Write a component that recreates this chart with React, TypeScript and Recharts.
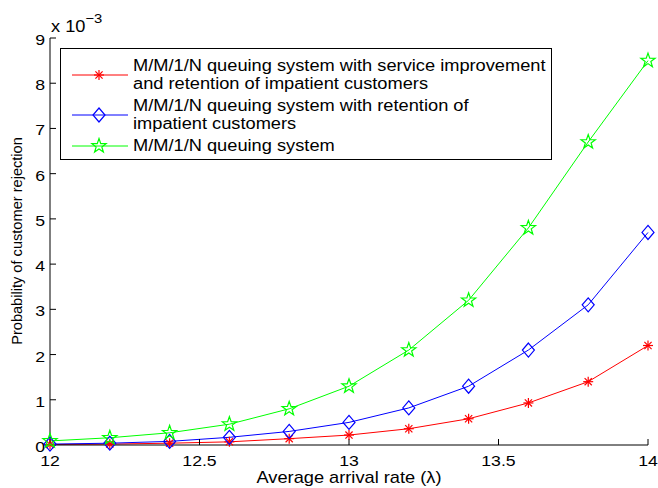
import React from "react";
import { LineChart, Line, XAxis, YAxis, Label } from "recharts";

// arrival rate λ
const RATES = [12, 12.2, 12.4, 12.6, 12.8, 13, 13.2, 13.4, 13.6, 13.8, 14];
// rejection probability, in units of 1e-3
const IMPROVED = [0.01, 0.02, 0.04, 0.07, 0.14, 0.22, 0.36, 0.58, 0.93, 1.4, 2.2];
const RETENTION = [0.02, 0.04, 0.08, 0.17, 0.3, 0.5, 0.82, 1.3, 2.1, 3.1, 4.7];
const BASIC = [0.09, 0.16, 0.27, 0.46, 0.8, 1.3, 2.1, 3.2, 4.8, 6.7, 8.5];

const X_TICKS = [12, 12.5, 13, 13.5, 14];
const Y_TICKS = [0, 1, 2, 3, 4, 5, 6, 7, 8, 9];

const LEGEND = [
  { key: "improved", color: "#ff0000", marker: "star6", lines: ["M/M/1/N queuing system with service improvement", "and retention of impatient customers"] },
  { key: "retention", color: "#0000ff", marker: "diamond", lines: ["M/M/1/N queuing system with retention of", "impatient customers"] },
  { key: "basic", color: "#00ff00", marker: "pentagram", lines: ["M/M/1/N queuing system"] },
];

const data = RATES.map((x, i) => ({ x, improved: IMPROVED[i], retention: RETENTION[i], basic: BASIC[i] }));

const FONT = '"Liberation Sans", Arial, Helvetica, sans-serif';
const SX = 1.14; // the original figure is stretched a bit horizontally

function Marker({ kind, cx, cy, color }: { kind: string; cx: number; cy: number; color: string }) {
  if (kind === "star6") {
    const r = 5;
    const d = r * 0.72;
    return (
      <g stroke={color} strokeWidth={1.2}>
        <line x1={cx - r} y1={cy} x2={cx + r} y2={cy} />
        <line x1={cx} y1={cy - r} x2={cx} y2={cy + r} />
        <line x1={cx - d} y1={cy - d} x2={cx + d} y2={cy + d} />
        <line x1={cx - d} y1={cy + d} x2={cx + d} y2={cy - d} />
      </g>
    );
  }
  if (kind === "diamond") {
    return (
      <path
        d={`M${cx},${cy - 7}L${cx + 6},${cy}L${cx},${cy + 7}L${cx - 6},${cy}Z`}
        fill="none"
        stroke={color}
        strokeWidth={1.2}
      />
    );
  }
  const pts: string[] = [];
  for (let k = 0; k < 10; k++) {
    const r = k % 2 === 0 ? 7.5 : 3;
    const a = -Math.PI / 2 + (k * Math.PI) / 5;
    pts.push(`${cx + r * Math.cos(a)},${cy + r * Math.sin(a)}`);
  }
  return <polygon points={pts.join(" ")} fill="none" stroke={color} strokeWidth={1.2} />;
}

const dotFor = (kind: string, color: string) => (p: any) =>
  <Marker key={`${kind}-${p.index}`} kind={kind} cx={p.cx} cy={p.cy} color={color} />;

function XTick({ x, y, payload }: any) {
  return (
    <text
      x={x}
      y={y}
      dy="0.71em"
      textAnchor="middle"
      fontSize={15.5}
      fontFamily={FONT}
      fill="#000"
      transform={`translate(${x} 0) scale(${SX} 1) translate(${-x} 0)`}
    >
      {payload.value}
    </text>
  );
}

function YTick({ x, y, payload }: any) {
  return (
    <text
      x={x}
      y={y + 1.5}
      dy="0.355em"
      textAnchor="end"
      fontSize={15.5}
      fontFamily={FONT}
      fill="#000"
      transform={`translate(${x} 0) scale(${SX} 1) translate(${-x} 0)`}
    >
      {payload.value}
    </text>
  );
}

export default function App() {
  return (
    <div style={{ position: "absolute", left: 0, top: 0, width: 658, height: 488, background: "#fff", fontFamily: FONT }}>
      <LineChart width={658} height={488} data={data} margin={{ top: 38, right: 10, bottom: 0, left: 0 }}>
        <XAxis
          xAxisId="b"
          dataKey="x"
          type="number"
          domain={[12, 14]}
          ticks={X_TICKS}
          height={43}
          tickSize={-6}
          tickMargin={16}
          stroke="#000"
          tick={<XTick />}
        >
          <Label
            content={() => (
              <text
                x={349}
                y={483}
                textAnchor="middle"
                fontSize={16}
                fontFamily={FONT}
                fill="#000"
                transform={`translate(349 0) scale(${SX} 1) translate(-349 0)`}
              >
                Average arrival rate (λ)
              </text>
            )}
          />
        </XAxis>
        <XAxis
          xAxisId="t"
          orientation="top"
          dataKey="x"
          type="number"
          domain={[12, 14]}
          ticks={X_TICKS}
          height={0}
          tickSize={-6}
          stroke="#000"
          tickFormatter={() => ""}
        />
        <YAxis
          yAxisId="l"
          type="number"
          domain={[0, 9]}
          ticks={Y_TICKS}
          width={50}
          tickSize={-6}
          tickMargin={11}
          stroke="#000"
          tick={<YTick />}
        >
          <Label
            content={() => (
              <text
                x={22}
                y={241}
                transform="rotate(-90 22 241)"
                textAnchor="middle"
                fontSize={14.6}
                fontFamily={FONT}
                fill="#000"
              >
                Probability of customer rejection
              </text>
            )}
          />
        </YAxis>
        <YAxis
          yAxisId="r"
          orientation="right"
          type="number"
          domain={[0, 9]}
          ticks={Y_TICKS}
          width={0}
          tickSize={-6}
          stroke="#000"
          tickFormatter={() => ""}
        />
        <Line xAxisId="b" yAxisId="l" type="linear" dataKey="improved" stroke="#ff0000" strokeWidth={1} dot={dotFor("star6", "#ff0000")} isAnimationActive={false} />
        <Line xAxisId="b" yAxisId="l" type="linear" dataKey="retention" stroke="#0000ff" strokeWidth={1} dot={dotFor("diamond", "#0000ff")} isAnimationActive={false} />
        <Line xAxisId="b" yAxisId="l" type="linear" dataKey="basic" stroke="#00ff00" strokeWidth={1} dot={dotFor("pentagram", "#00ff00")} isAnimationActive={false} />
      </LineChart>

      <svg width={120} height={40} style={{ position: "absolute", left: 0, top: 0 }}>
        <text
          x={51}
          y={32}
          fontSize={16}
          fontFamily={FONT}
          fill="#000"
          transform={`translate(51 0) scale(${SX} 1) translate(-51 0)`}
        >
          x 10
          <tspan dy={-9} fontSize={13}>−3</tspan>
        </text>
      </svg>

      <div
        style={{
          position: "absolute",
          left: 60,
          top: 48,
          width: 492,
          height: 112,
          border: "1px solid #000",
          background: "#fff",
          paddingTop: 8,
          boxSizing: "border-box",
        }}
      >
        {LEGEND.map((e) => (
          <div key={e.key} style={{ display: "flex", alignItems: "center", marginBottom: 4 }}>
            <svg width={72} height={18} style={{ flex: "none" }}>
              <line x1={11} y1={9} x2={67} y2={9} stroke={e.color} strokeWidth={1} />
              <Marker kind={e.marker} cx={38} cy={9} color={e.color} />
            </svg>
            <div
              style={{
                fontSize: 16,
                lineHeight: "18px",
                color: "#000",
                whiteSpace: "nowrap",
                transform: `scaleX(${SX})`,
                transformOrigin: "left center",
              }}
            >
              {e.lines.map((l) => (
                <div key={l}>{l}</div>
              ))}
            </div>
          </div>
        ))}
      </div>
    </div>
  );
}
